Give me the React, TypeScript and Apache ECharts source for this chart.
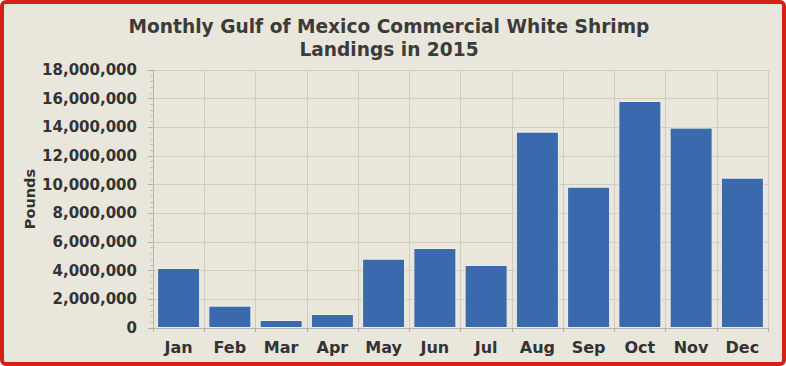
import React, { useEffect, useRef } from "react";
import * as echarts from "echarts";

const months = ["Jan", "Feb", "Mar", "Apr", "May", "Jun", "Jul", "Aug", "Sep", "Oct", "Nov", "Dec"];
const pounds = [4190000, 1560000, 560000, 980000, 4840000, 5580000, 4400000, 13700000, 9860000, 15840000, 13980000, 10490000];
const titleLines = ["Monthly Gulf of Mexico Commercial White Shrimp", "Landings in 2015"];
const yAxisName = "Pounds";

export default function App() {
  const ref = useRef<HTMLDivElement>(null);
  useEffect(() => {
    const chart = echarts.init(ref.current!, null, { renderer: "svg" });
    const font = "'DejaVu Sans', 'Liberation Sans', Arial, sans-serif";
    chart.setOption({
      animation: false,
      backgroundColor: "#e9e6dc",
      title: {
        text: titleLines.join("\n"),
        left: 384,
        textAlign: "center",
        top: 10,
        textStyle: { fontFamily: font, fontWeight: "bold", fontSize: 18.6, color: "#3b3b3b", lineHeight: 23 },
      },
      grid: { left: 153, right: 18, top: 70, bottom: 38 },
      xAxis: {
        type: "category",
        data: months,
        axisLine: { show: true, lineStyle: { color: "#b8b6ae" } },
        axisTick: { show: true, alignWithLabel: false, length: 4, lineStyle: { color: "#b0aea6" } },
        splitLine: { show: true, lineStyle: { color: "#cfccc2", width: 1 } },
        axisLabel: { fontFamily: font, fontWeight: "bold", fontSize: 16, color: "#333", margin: 11 },
      },
      yAxis: {
        type: "value",
        min: 0,
        max: 18000000,
        interval: 2000000,
        name: yAxisName,
        nameLocation: "middle",
        nameGap: 116,
        nameMoveOverlap: false,
        nameTextStyle: { fontFamily: font, fontWeight: "bold", fontSize: 14.5, color: "#333" },
        axisLine: { show: true, lineStyle: { color: "#b8b6ae" } },
        axisTick: { show: true, length: 5, lineStyle: { color: "#b0aea6" } },
        minorTick: { show: true, splitNumber: 5, length: 3, lineStyle: { color: "#c0beb6" } },
        splitLine: { show: true, lineStyle: { color: "#cfccc2", width: 1 } },
        axisLabel: {
          fontFamily: font,
          fontWeight: "bold",
          fontSize: 15,
          color: "#333",
          margin: 16,
          formatter: (v: number) => v.toLocaleString("en-US"),
        },
      },
      series: [
        {
          type: "bar",
          data: pounds,
          barCategoryGap: "16%",
          itemStyle: { color: "#3a69ae", borderColor: "#f2f0ea", borderWidth: 1 },
        },
      ],
    });
    return () => chart.dispose();
  }, []);
  return (
    <div
      style={{
        position: "fixed",
        left: 0,
        top: 0,
        width: 786,
        height: 366,
        boxSizing: "border-box",
        border: "4px solid #d3220f",
        borderRadius: 6,
        overflow: "hidden",
        background: "#e9e6dc",
      }}
    >
      <div ref={ref} style={{ position: "absolute", left: -4, top: -4, width: 786, height: 366 }} />
    </div>
  );
}
